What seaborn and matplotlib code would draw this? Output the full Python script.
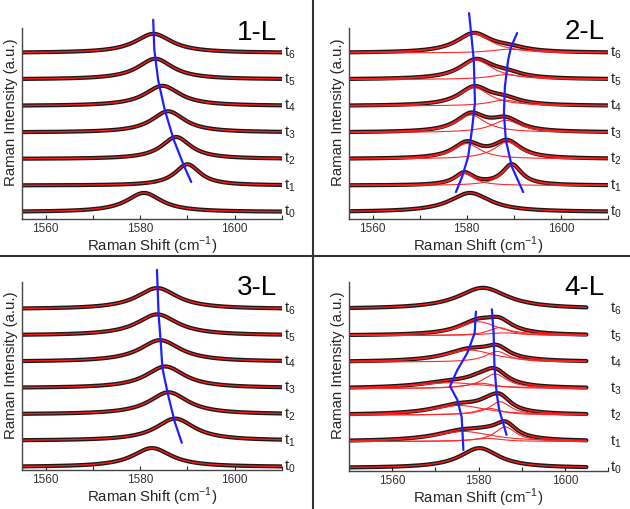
import numpy as np
import pandas as pd
import matplotlib
matplotlib.use("Agg")
import matplotlib.pyplot as plt
import matplotlib.transforms as mtransforms
from matplotlib.lines import Line2D
import seaborn as sns

# Peak parameters: centre (cm-1), FWHM (cm-1), height.
# One entry per trace t0..t6, traces stacked one unit apart.

# 1-L : one Lorentzian per trace
l1_center = [1580.8, 1590.0, 1587.6, 1585.9, 1584.7, 1583.2, 1582.8]
l1_width = [9.0, 6.5, 7.5, 8.5, 9.0, 9.0, 9.5]
l1_height = [0.72, 0.80, 0.83, 0.80, 0.76, 0.78, 0.72]

# 2-L : two components (a = low shift, b = high shift)
l2_center_a = [1580.7, 1579.5, 1580.0, 1580.9, 1581.6, 1582.0, 1581.5]
l2_width_a = [10.5, 5.0, 7.0, 7.5, 8.0, 8.5, 9.0]
l2_height_a = [0.72, 0.46, 0.58, 0.66, 0.69, 0.72, 0.72]
l2_center_b = [1588.0, 1589.6, 1588.6, 1588.3, 1588.0, 1588.3, 1589.0]
l2_width_b = [8.0, 5.0, 7.0, 7.5, 8.0, 8.5, 9.0]
l2_height_b = [0.0, 0.78, 0.64, 0.46, 0.22, 0.18, 0.14]

# 3-L : one Lorentzian per trace
l3_center = [1582.5, 1587.4, 1586.0, 1585.3, 1584.2, 1583.6, 1583.6]
l3_width = [10.0, 10.0, 10.0, 10.0, 10.5, 10.5, 10.5]
l3_height = [0.72, 0.84, 0.84, 0.82, 0.82, 0.80, 0.80]

# 4-L : three components (a = broad low shift, b = middle, c = high shift)
l4_center_a = [1580.2, 1576.5, 1575.5, 1573.5, 1578.0, 1580.0, 1581.0]
l4_width_a = [11.0, 16.0, 15.0, 18.0, 14.0, 11.0, 14.0]
l4_height_a = [0.75, 0.38, 0.36, 0.22, 0.45, 0.52, 0.80]
l4_center_b = [1582.0, 1582.0, 1582.5, 1580.5, 1584.3, 1584.8, 1582.0]
l4_width_b = [8.0, 8.0, 7.0, 8.0, 6.5, 6.0, 8.0]
l4_height_b = [0.0, 0.12, 0.25, 0.20, 0.40, 0.30, 0.0]
l4_center_c = [1586.0, 1586.2, 1585.0, 1583.8, 1585.0, 1586.0, 1586.0]
l4_width_c = [6.0, 6.0, 6.0, 7.0, 6.0, 10.0, 6.0]
l4_height_c = [0.0, 0.55, 0.50, 0.55, 0.0, 0.10, 0.0]

# blue guide lines (x in cm-1, y in trace units)
l1_guide_x = [1582.75, 1583.0, 1583.8, 1585.2, 1587.1, 1589.2, 1590.8]
l1_guide_y = [7.25, 6.11, 4.98, 3.85, 2.72, 1.77, 1.13]
l2_guide1_x = [1580.5, 1581.5, 1581.75, 1581.1, 1580.3, 1579.0, 1577.7]
l2_guide1_y = [7.5, 5.74, 4.11, 3.09, 2.08, 1.32, 0.75]
l2_guide2_x = [1590.7, 1589.4, 1588.8, 1588.1, 1587.9, 1588.3, 1589.6, 1592.0]
l2_guide2_y = [6.75, 6.21, 5.74, 4.72, 3.74, 2.72, 1.70, 0.75]
l3_guide_x = [1583.55, 1583.9, 1584.35, 1584.7, 1585.9, 1587.3, 1588.8]
l3_guide_y = [7.49, 5.78, 4.75, 3.76, 2.74, 1.72, 0.92]
l4_guide1_x = [1579.4, 1579.1, 1577.4, 1575.1, 1573.4, 1575.1, 1576.1, 1576.3, 1576.5]
l4_guide1_y = [5.9, 5.09, 4.34, 3.7, 3.09, 2.57, 1.92, 1.32, 0.68]
l4_guide2_x = [1583.1, 1583.5, 1583.7, 1584.2, 1584.8, 1585.7, 1586.5]
l4_guide2_y = [5.99, 5.09, 3.82, 2.83, 2.19, 1.70, 1.25]

trace_labels = ["t$_0$", "t$_1$", "t$_2$", "t$_3$", "t$_4$", "t$_5$", "t$_6$"]


def lorentz(x, c, w, h):
    return h / (1.0 + ((x - c) / (w / 2.0)) ** 2)


sns.set_theme(style="ticks")
plt.rcParams['font.family'] = ['Liberation Sans', 'DejaVu Sans']
plt.rcParams['mathtext.fontset'] = 'custom'
plt.rcParams['mathtext.rm'] = 'Liberation Sans'

fig = plt.figure(figsize=(6.3, 5.09), dpi=100)

W, H = 630, 509
boxes = [(22, 282, 28, 219), (349, 608, 28, 219), (22, 282, 282, 470), (349, 608, 282, 471)]
panels = [
    dict(name="1-L", xlim=(1555, 1610), ylim=(-0.264, 6.94),
         comps=[(l1_center, l1_width, l1_height)],
         guides=[(l1_guide_x, l1_guide_y)], title_xy=(0.98, 0.937)),
    dict(name="2-L", xlim=(1555, 1610), ylim=(-0.264, 6.94),
         comps=[(l2_center_a, l2_width_a, l2_height_a), (l2_center_b, l2_width_b, l2_height_b)],
         guides=[(l2_guide1_x, l2_guide1_y), (l2_guide2_x, l2_guide2_y)], title_xy=(0.988, 0.945)),
    dict(name="3-L", xlim=(1555, 1610), ylim=(-0.114, 7.03),
         comps=[(l3_center, l3_width, l3_height)],
         guides=[(l3_guide_x, l3_guide_y)], title_xy=(0.98, 0.93)),
    dict(name="4-L", xlim=(1550, 1605), ylim=(-0.113, 7.02),
         comps=[(l4_center_a, l4_width_a, l4_height_a), (l4_center_b, l4_width_b, l4_height_b),
                (l4_center_c, l4_width_c, l4_height_c)],
         guides=[(l4_guide1_x, l4_guide1_y), (l4_guide2_x, l4_guide2_y)], title_xy=(0.988, 0.93)),
]

for box, p in zip(boxes, panels):
    l, r, t, b = box
    ax = fig.add_axes([l / W, 1 - b / H, (r - l) / W, (b - t) / H])
    x = np.linspace(p["xlim"][0], p["xlim"][1], 500)
    n_comp = len(p["comps"])
    for i in range(7):
        parts = [lorentz(x, c[i], w[i], h[i]) for c, w, h in p["comps"] if h[i] > 0]
        total = np.sum(parts, axis=0) + i
        # measured spectrum (drawn as a thick dark band), then the fit
        sns.lineplot(x=x, y=total, ax=ax, color="black", lw=3.0, alpha=0.9, estimator=None, sort=False)
        if n_comp > 1 and len(parts) > 1:
            for part in parts:
                sns.lineplot(x=x, y=part + i, ax=ax, color="#ff2a2a", lw=0.8, estimator=None, sort=False)
        sns.lineplot(x=x, y=total, ax=ax, color="#ff1a1a", lw=1.0, estimator=None, sort=False)
        ax.text(1.008, i, trace_labels[i], transform=mtransforms.blended_transform_factory(ax.transAxes, ax.transData),
                ha="left", va="center", fontsize=10.5, color="#222222")
    for gx, gy in p["guides"]:
        sns.lineplot(x=gx, y=gy, ax=ax, color="#1f1fff", lw=1.6, estimator=None, sort=False, clip_on=False)

    ax.set_xlim(*p["xlim"])
    ax.set_ylim(*p["ylim"])
    ax.set_yticks([])
    ax.set_xticks(np.arange(1560, 1601, 20))
    ax.set_xticks(np.arange(1560, 1611, 10), minor=True)
    ax.tick_params(axis="x", which="both", direction="in", length=3, width=0.8, labelsize=8.5, pad=3,
                   labelcolor="#333333")
    for s in ["top", "right"]:
        ax.spines[s].set_visible(False)
    for s in ["left", "bottom"]:
        ax.spines[s].set_color("#444444")
        ax.spines[s].set_linewidth(1.0)
    ax.set_xlabel("Raman Shift (cm$^{-1}$)", fontsize=10.8, labelpad=0)
    ax.set_ylabel("Raman Intensity (a.u.)", fontsize=10.8)
    ax.yaxis.set_label_coords(-0.014, 0.56)
    ax.text(p["title_xy"][0], p["title_xy"][1], p["name"], transform=ax.transAxes,
            ha="right", va="baseline", fontsize=20, color="black")
    if ax.get_legend():
        ax.get_legend().remove()

# panel dividers
fig.add_artist(Line2D([312.5 / W, 312.5 / W], [0, 1], transform=fig.transFigure, color="#333333", lw=1.5))
fig.add_artist(Line2D([0, 1], [1 - 256 / H, 1 - 256 / H], transform=fig.transFigure, color="#333333", lw=1.5))

fig.savefig("out.png", dpi=100)
